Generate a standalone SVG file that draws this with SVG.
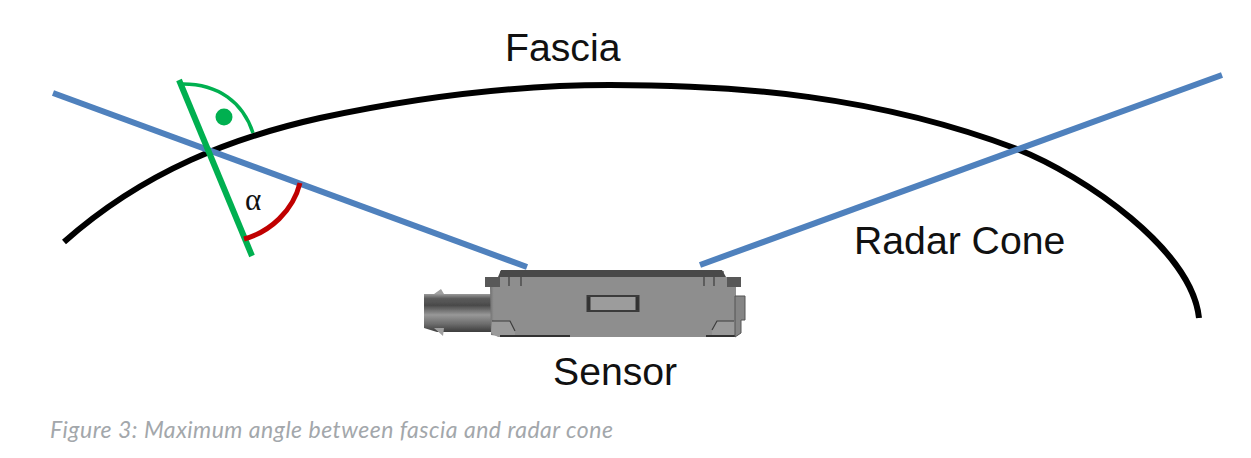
<svg xmlns="http://www.w3.org/2000/svg" width="1251" height="458" viewBox="0 0 1251 458">
<defs>
<linearGradient id="conn" x1="0" y1="0" x2="0" y2="1"><stop offset="0" stop-color="#9a9a9a"/><stop offset=".12" stop-color="#5c5c5c"/><stop offset=".3" stop-color="#4a4a4a"/><stop offset=".55" stop-color="#989898"/><stop offset=".8" stop-color="#6a6a6a"/><stop offset="1" stop-color="#3c3c3c"/></linearGradient>
<linearGradient id="shade" x1="0" y1="0" x2="1" y2="0"><stop offset="0" stop-color="#505050"/><stop offset=".03" stop-color="#8e8e8e"/><stop offset="1" stop-color="#8e8e8e"/></linearGradient>
<filter id="soft" x="-5%" y="-5%" width="110%" height="110%"><feGaussianBlur stdDeviation="0.5"/></filter>
</defs>
<style>
text{font-family:"Liberation Sans",Arial,sans-serif;fill:#111}
.lbl{font-size:39.2px}
.ln{fill:none;stroke-linecap:butt}
.blue{stroke:#4f81bd;stroke-width:6}
.dk{fill:none;stroke:#3c3c3c;stroke-width:1.2}
</style>
<rect width="1251" height="458" fill="#fff"/>
<g id="connectors">
<path id="fascia" class="ln" d="M64 242C145 170 235 137 320 118C413 98 507 85 610 85C740 85 877 96 1017 149C1085 176 1192 250 1199 318" stroke="#000" stroke-width="6"/>
<path class="ln blue" d="M53 93L527 267"/>
<path class="ln blue" d="M700 265L1222 75"/>
<path class="ln" d="M179 80L252 256" stroke="#00b050" stroke-width="6"/>
<path class="ln" d="M183 84C218 84 243 102 253 133" stroke="#00b050" stroke-width="3.500"/>
<circle cx="224" cy="117" r="8.500" fill="#00b050"/>
<path class="ln" d="M244 239C270 232 293 211 300 183" stroke="#c00000" stroke-width="5"/>
</g>
<g id="sensor" filter="url(#soft)">
<path d="M424 294H491V332H437L424 328Z" fill="url(#conn)"/>
<path d="M434 294L441 289L444 294ZM434 328L443 336L444 328Z" fill="#a0a0a0"/>
<path d="M486 277H500V271H724V277H741V287H736V337H505L491 335L490 287H486Z" fill="url(#shade)"/>
<path d="M501 270H722L726 277H498Z" fill="#4a4a4a"/>
<path d="M485 277H500V287H485ZM727 277H741V287H727Z" fill="#585858"/>
<path d="M492 321H510L515 331V337H498L491 333Z" fill="#9a9a9a"/>
<path class="dk" d="M492 321H510L515 331"/>
<path d="M717 321H735V334L730 337H712V330Z" fill="#9a9a9a"/>
<path class="dk" d="M734 321H717L712 330"/>
<path d="M500 336H570M706 336H735" stroke="#333" stroke-width="2"/>
<rect x="587.500" y="296" width="51" height="15" fill="#9c9c9c" stroke="#3a3a3a" stroke-width="2"/>
<path d="M589 297V310M637 297V310" stroke="#333" stroke-width="3"/>
<path class="dk" d="M509 277V286M521 277V286M704 277V286M714 277V286"/>
<path d="M735 296H745V320H741V333L735 337Z" fill="#858585" stroke="#555"/>
</g>
<g id="fascia-label"><text class="lbl" x="505" y="61">Fascia</text></g>
<g id="radar-cone-label"><text class="lbl" x="854" y="254">Radar Cone</text></g>
<g id="sensor-label"><text class="lbl" x="553" y="385">Sensor</text></g>
<g id="alpha-label"><text x="245" y="210" style="font-family:'Liberation Serif',serif;font-size:31px">α</text></g>
<g id="caption"><text x="50" y="438" style="font-family:'Lato',sans-serif;font-style:italic;font-size:23px;letter-spacing:.5px;fill:#a3a7ab">Figure 3: Maximum angle between fascia and radar cone</text></g>
</svg>
